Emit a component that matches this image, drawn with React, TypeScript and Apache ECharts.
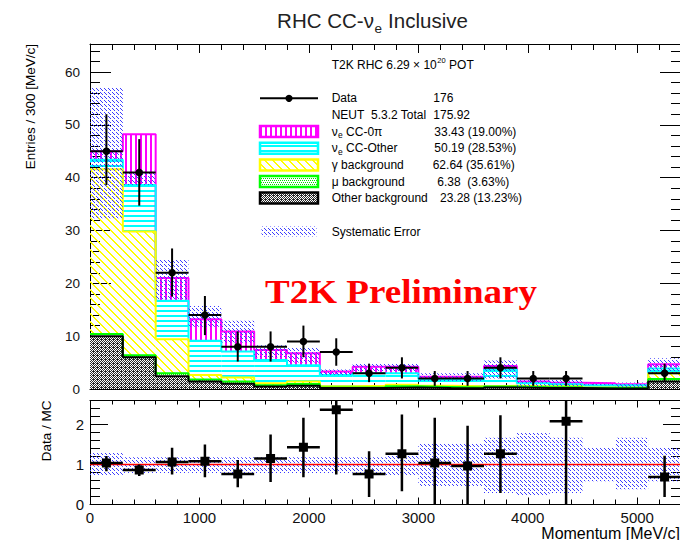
import React, { useEffect, useRef } from 'react';
import * as echarts from 'echarts';

const SANS = 'Liberation Sans, Arial, Helvetica, sans-serif';
const SERIF = 'Liberation Serif, Times New Roman, serif';

// 300 MeV/c momentum bins
const binEdges = [0, 300, 600, 900, 1200, 1500, 1800, 2100, 2400, 2700, 3000, 3300, 3600, 3900, 4200, 4500, 4800, 5100, 5400];

// MC stack components (entries per bin), bottom to top
const otherBkg = [10.0, 6.0, 2.4, 1.4, 1.0, 0.45, 0.6, 0.2, 0.2, 0.3, 0.2, 0.15, 0.3, 0.2, 0.2, 0.1, 0.15, 1.4];
const muBkg = [0.4, 0.4, 0.6, 0.4, 0.4, 0.25, 0.35, 0.1, 0.1, 0.2, 0.2, 0.15, 0.15, 0.15, 0.15, 0.1, 0.1, 0.5];
const gammaBkg = [31.2, 23.4, 6.4, 0.85, 0.8, 0.4, 0.45, 0.2, 0.3, 0.3, 0.2, 0.2, 0.15, 0.15, 0.15, 0.1, 0.1, 1.1];
const ccOther = [1.8, 8.8, 7.3, 6.5, 4.9, 4.4, 3.1, 2.15, 2.4, 2.2, 1.3, 1.3, 3.1, 0.6, 0.4, 0.4, 0.35, 0.9];
const cc0pi = [1.6, 9.6, 4.3, 4.05, 3.8, 1.9, 2.25, 0.65, 1.2, 1.2, 0.4, 0.5, 0.65, 0.3, 0.3, 0.4, 0.2, 0.8];

// systematic error band (top panel)
const bandLow = [32.3, 38.6, 16.9, 11.8, 8.8, 6.0, 5.0, 2.5, 3.2, 3.3, 1.5, 1.5, 2.0, 0.5, 0.5, 0.7, 0.3, 3.0];
const bandHigh = [57.0, 41.3, 24.4, 15.7, 12.9, 8.3, 7.9, 3.7, 4.9, 4.9, 3.0, 3.0, 5.4, 1.8, 1.7, 1.2, 1.25, 5.8];

// data
const dataCounts = [45, 41, 22, 14, 8, 8, 9, 7, 3, 4, 2, 2, 4, 2, 2, null, null, 3];
const dataErrLow = [38.6, 34.7, 17.5, 10.2, 5.2, 5.2, 6.0, 4.4, 1.3, 2.0, 0.6, 0.6, 2.0, 0.6, 0.6, null, null, 1.3];
const dataErrHigh = [52.0, 47.3, 26.6, 17.6, 10.9, 10.9, 12.0, 9.6, 4.8, 6.0, 3.4, 3.4, 6.0, 3.4, 3.4, null, null, 4.8];

// ratio panel
const ratioValues = [1.04, 0.86, 1.06, 1.08, 0.76, 1.15, 1.43, 2.37, 0.76, 1.27, 1.04, 0.96, 1.27, null, 2.08, null, null, 0.69];
const ratioErrLow = [0.83, 0.71, 0.75, 0.68, 0.43, 0.56, 0.68, 0.75, 0.19, 0.33, 0.0, 0.0, 0.29, null, 0.0, null, null, 0.19];
const ratioErrHigh = [1.21, 1.0, 1.42, 1.5, 1.11, 1.75, 2.17, 3.3, 1.33, 2.25, 2.17, 1.97, 2.23, null, 3.5, null, null, 1.22];
const ratioBandLow = [0.71, 0.79, 0.79, 0.79, 0.79, 0.79, 0.79, 0.79, 0.79, 0.71, 0.46, 0.46, 0.29, 0.21, 0.29, 0.58, 0.38, 0.58];
const ratioBandHigh = [1.29, 1.18, 1.18, 1.18, 1.18, 1.18, 1.18, 1.18, 1.18, 1.25, 1.54, 1.54, 1.67, 1.79, 1.67, 1.42, 1.67, 1.42];
const ratioReference = 1;

function makeTile(w: number, h: number, bg: string | null, fg: string, pts: number[][]) {
  const c = document.createElement('canvas');
  c.width = w;
  c.height = h;
  const ctx = c.getContext('2d')!;
  if (bg) {
    ctx.fillStyle = bg;
    ctx.fillRect(0, 0, w, h);
  }
  ctx.fillStyle = fg;
  pts.forEach(([x, y]) => ctx.fillRect(x, y, 1, 1));
  return { image: c.toDataURL('image/png'), repeat: 'repeat', imageWidth: w, imageHeight: h };
}

function measure(text: string, size: number, family = '"Liberation Sans"', weight = 'normal') {
  const ctx = document.createElement('canvas').getContext('2d')!;
  ctx.font = `${weight} ${size}px ${family}`;
  return ctx.measureText(text).width;
}

export default function App() {
  const ref = useRef<HTMLDivElement>(null);
  useEffect(() => {
    if (!ref.current) return;
    const chart = echarts.init(ref.current, null, { renderer: 'svg' });

    const yl: number[][] = [];
    for (let i = 0; i < 8; i++) { yl.push([i, i]); yl.push([(i + 1) % 8, i]); }
    const patYellow = makeTile(8, 8, null, '#ffff00', yl);
    const mg: number[][] = [];
    for (let y = 0; y < 5; y++) { mg.push([0, y]); mg.push([1, y]); }
    const patMagenta = makeTile(5, 5, null, '#ff00ff', mg);
    const cy: number[][] = [];
    for (let x = 0; x < 5; x++) { cy.push([x, 0]); cy.push([x, 1]); }
    const patCyan = makeTile(5, 5, null, '#00ffff', cy);
    const patGreen = makeTile(4, 4, null, '#00e000', [[0, 0], [2, 0], [1, 2], [3, 2]]);
    const patGray = makeTile(4, 4, '#2a2a2a', '#ffffff', [[0, 0], [2, 0], [1, 1], [3, 1], [0, 2], [2, 2], [3, 3]]);
    const patBlue = makeTile(4, 4, null, '#3c3cff', [[0, 0], [1, 1], [2, 2]]);

    const nB = binEdges.length - 1;
    const rectRenderer = (pat: any) => (params: any, api: any) => {
      const p0 = api.coord([api.value(0), api.value(2)]);
      const p1 = api.coord([api.value(1), api.value(3)]);
      return {
        type: 'rect',
        shape: { x: p0[0], y: p1[1], width: p1[0] - p0[0], height: p0[1] - p1[1] },
        style: { fill: pat },
      };
    };

    const comps = [
      { vals: otherBkg, pat: patGray, color: '#000000' },
      { vals: muBkg, pat: patGreen, color: '#00ff00' },
      { vals: gammaBkg, pat: patYellow, color: '#ffff00' },
      { vals: ccOther, pat: patCyan, color: '#00ffff' },
      { vals: cc0pi, pat: patMagenta, color: '#ff00ff' },
    ];
    const cum: number[] = binEdges.slice(1).map(() => 0);
    const fillSeries: any[] = [];
    const lineSeries: any[] = [];
    comps.forEach((c) => {
      const rects: number[][] = [];
      const steps: number[][] = [];
      for (let i = 0; i < nB; i++) {
        const lo = cum[i];
        const hi = lo + c.vals[i];
        cum[i] = hi;
        rects.push([binEdges[i], binEdges[i + 1], lo, hi]);
        steps.push([binEdges[i], hi], [binEdges[i + 1], hi]);
      }
      fillSeries.push({
        type: 'custom', xAxisIndex: 0, yAxisIndex: 0, data: rects, silent: true, z: 1,
        encode: { x: [0, 1], y: [2, 3] }, renderItem: rectRenderer(c.pat),
      });
      lineSeries.push({
        type: 'line', xAxisIndex: 0, yAxisIndex: 0, data: steps, symbol: 'none', silent: true, z: 2,
        lineStyle: { color: c.color, width: 2 },
      });
    });
    lineSeries.reverse();

    const bandRects = binEdges.slice(0, nB).map((e, i) => [e, binEdges[i + 1], bandLow[i], bandHigh[i]]);
    const ratioBandRects = binEdges.slice(0, nB).map((e, i) => [e, binEdges[i + 1], ratioBandLow[i], ratioBandHigh[i]]);

    const topPts: number[][] = [];
    const ratioPts: number[][] = [];
    for (let i = 0; i < nB; i++) {
      if (dataCounts[i] != null) topPts.push([binEdges[i], binEdges[i + 1], dataCounts[i] as number, dataErrLow[i] as number, dataErrHigh[i] as number]);
      if (ratioValues[i] != null) ratioPts.push([binEdges[i], binEdges[i + 1], ratioValues[i] as number, ratioErrLow[i] as number, ratioErrHigh[i] as number]);
    }
    const pointRenderer = (square: boolean, lw: number, size: number) => (params: any, api: any) => {
      const x0 = api.value(0), x1 = api.value(1), v = api.value(2), lo = api.value(3), hi = api.value(4);
      const xc = (x0 + x1) / 2;
      const a = api.coord([x0, v]);
      const b = api.coord([x1, v]);
      const c = api.coord([xc, v]);
      const l = api.coord([xc, lo]);
      const h = api.coord([xc, hi]);
      const marker = square
        ? { type: 'rect', shape: { x: c[0] - size / 2, y: c[1] - size / 2, width: size, height: size }, style: { fill: '#000' } }
        : { type: 'circle', shape: { cx: c[0], cy: c[1], r: size / 2 }, style: { fill: '#000' } };
      return {
        type: 'group',
        children: [
          { type: 'line', shape: { x1: a[0], y1: a[1], x2: b[0], y2: b[1] }, style: { stroke: '#000', lineWidth: lw } },
          { type: 'line', shape: { x1: c[0], y1: h[1], x2: c[0], y2: l[1] }, style: { stroke: '#000', lineWidth: lw } },
          marker,
        ],
      };
    };

    const plain = (v: number) => String(v);
    const axLine = { show: true, onZero: false, lineStyle: { color: '#000', width: 1 } };
    const mkX = (grid: number, pos: string, labels: boolean, major: number, minor: number) => ({
      type: 'value', gridIndex: grid, position: pos, min: binEdges[0], max: binEdges[nB], interval: 1000,
      axisLine: axLine,
      axisTick: { show: true, inside: true, length: major, lineStyle: { color: '#000' } },
      minorTick: { show: true, splitNumber: 5, length: minor, lineStyle: { color: '#000' } },
      splitLine: { show: false },
      axisLabel: { show: labels, showMaxLabel: false, fontSize: 15, fontFamily: SANS, color: '#111', margin: 5, formatter: plain },
    });
    const mkY = (grid: number, pos: string, labels: boolean, max: number, major: number, fs: number, margin: number) => ({
      type: 'value', gridIndex: grid, position: pos, min: 0, max, interval: grid === 0 ? 10 : 1,
      axisLine: axLine,
      axisTick: { show: true, inside: true, length: major, lineStyle: { color: '#000' } },
      minorTick: { show: true, splitNumber: 5, length: 10, lineStyle: { color: '#000' } },
      splitLine: { show: false },
      axisLabel: { show: labels, showMaxLabel: false, fontSize: fs, fontFamily: SANS, color: '#111', margin, formatter: plain },
    });

    const txt = (x: number, y: number, text: string, size: number, extra: any = {}, el: any = {}) => ({
      type: 'text', x, y, z: 100, silent: true, ...el,
      style: { text, fontSize: size, fontFamily: SANS, fill: '#000', align: 'left', verticalAlign: 'middle', ...extra },
    });

    // Title pieces centred
    const tA = 'RHC CC-ν', tB = 'e', tC = 'Inclusive';
    const wA = measure(tA, 20.5), wB = measure(tB, 13.5), wSp = measure(' ', 20.5), wC = measure(tC, 20.5);
    const tTotal = wA + wB + 1 + wSp + wC;
    const tx0 = 372.5 - tTotal / 2;

    const legendX = 331.7;
    const nuLine = (y: number, rest: string) => {
      const w1 = measure('ν', 12);
      const w2 = measure('e', 8.5);
      return [
        txt(legendX, y, 'ν', 12),
        txt(legendX + w1 + 0.3, y + 3.5, 'e', 8.5),
        txt(legendX + w1 + w2 + 0.3 + measure(' ', 12), y, rest, 12),
      ];
    };
    const potA = 'T2K RHC 6.29 × 10';
    const wPotA = measure(potA, 12);
    const wSup = measure('20', 7.5);

    const prelim = 'T2K Preliminary';
    const wPre = measure(prelim, 34, '"Liberation Serif"', 'bold');

    const box = (y: number, pat: any, stroke: string) => ({
      type: 'rect', z: 100, silent: true,
      shape: { x: 260, y: y - 5.5, width: 58, height: 11 },
      style: { fill: pat, stroke, lineWidth: 2.5 },
    });

    const graphics: any[] = [
      txt(tx0, 20.5, tA, 20.5, { fill: '#222' }),
      txt(tx0 + wA + 0.5, 28.5, tB, 13.5, { fill: '#222' }),
      txt(tx0 + wA + wB + 1 + wSp, 20.5, tC, 20.5, { fill: '#222' }),
      txt(30, 44, 'Entries / 300 [MeV/c]', 13.5, { align: 'right' }, { rotation: Math.PI / 2 }),
      txt(46, 400.5, 'Data / MC', 13.5, { align: 'right' }, { rotation: Math.PI / 2 }),
      txt(680, 533, 'Momentum [MeV/c]', 16, { align: 'right' }),
      txt(legendX, 65, potA, 12),
      txt(legendX + wPotA + 0.5, 60, '20', 7.5),
      txt(legendX + wPotA + wSup + 4, 65, 'POT', 12),
      {
        type: 'line', z: 100, silent: true,
        shape: { x1: 260, y1: 98.3, x2: 318, y2: 98.3 }, style: { stroke: '#000', lineWidth: 2 },
      },
      { type: 'circle', z: 101, silent: true, shape: { cx: 289, cy: 98.3, r: 3.6 }, style: { fill: '#000' } },
      txt(legendX, 98.3, 'Data', 12),
      txt(433.3, 98.3, '176', 12),
      txt(legendX, 114.6, 'NEUT\u00a0\u00a05.3.2 Total', 12),
      txt(433.3, 114.6, '175.92', 12),
      box(131.5, patMagenta, '#ff00ff'),
      ...nuLine(131.5, 'CC-0π'),
      txt(434.3, 131.5, '33.43 (19.00%)', 12),
      box(148.2, patCyan, '#00ffff'),
      ...nuLine(148.2, 'CC-Other'),
      txt(434.3, 148.2, '50.19 (28.53%)', 12),
      box(164.9, patYellow, '#ffff00'),
      txt(legendX, 164.9, 'γ background', 12),
      txt(432.7, 164.9, '62.64 (35.61%)', 12),
      box(181.5, patGreen, '#00ff00'),
      txt(legendX, 181.5, 'μ background', 12),
      txt(437.3, 181.5, '6.38\u00a0\u00a0(3.63%)', 12),
      box(197.9, patGray, '#000000'),
      txt(legendX, 197.9, 'Other background', 12),
      txt(440, 197.9, '23.28 (13.23%)', 12),
      {
        type: 'rect', z: 100, silent: true,
        shape: { x: 261.5, y: 226.5, width: 55, height: 10 }, style: { fill: patBlue },
      },
      txt(legendX, 231.5, 'Systematic Error', 12),
      {
        type: 'text', x: 265, y: 292, z: 100, silent: true, scaleX: 272 / wPre,
        style: { text: prelim, fontSize: 34, fontWeight: 'bold', fontFamily: SERIF, fill: '#ff0000', align: 'left', verticalAlign: 'middle' },
      },
    ];

    const option: any = {
      animation: false,
      backgroundColor: '#ffffff',
      textStyle: { fontFamily: SANS },
      grid: [
        { left: 90, top: 44, width: 591, height: 345, containLabel: false, outerBoundsMode: 'none' },
        { left: 90, top: 400.5, width: 591, height: 104, containLabel: false, outerBoundsMode: 'none' },
      ],
      xAxis: [
        mkX(0, 'bottom', false, 9, 6),
        mkX(0, 'top', false, 9, 6),
        mkX(1, 'bottom', true, 7, 5),
        mkX(1, 'top', false, 7, 4),
      ],
      yAxis: [
        mkY(0, 'left', true, 65.3, 21, 13.5, 10),
        mkY(0, 'right', false, 65.3, 21, 13.5, 10),
        mkY(1, 'left', true, 2.6, 18, 15, 6),
        mkY(1, 'right', false, 2.6, 18, 15, 6),
      ],
      series: [
        ...fillSeries,
        ...lineSeries,
        {
          type: 'custom', xAxisIndex: 0, yAxisIndex: 0, data: bandRects, silent: true, z: 3,
          encode: { x: [0, 1], y: [2, 3] }, renderItem: rectRenderer(patBlue),
        },
        {
          type: 'custom', xAxisIndex: 0, yAxisIndex: 0, data: topPts, silent: true, z: 5, clip: true,
          encode: { x: [0, 1], y: [2, 3, 4] }, renderItem: pointRenderer(false, 2, 7.5),
        },
        {
          type: 'custom', xAxisIndex: 2, yAxisIndex: 2, data: ratioBandRects, silent: true, z: 3, clip: true,
          encode: { x: [0, 1], y: [2, 3] }, renderItem: rectRenderer(patBlue),
        },
        {
          type: 'line', xAxisIndex: 2, yAxisIndex: 2, symbol: 'none', silent: true, z: 4,
          data: [[binEdges[0], ratioReference], [binEdges[nB], ratioReference]],
          lineStyle: { color: '#ff0000', width: 1.5 },
        },
        {
          type: 'custom', xAxisIndex: 2, yAxisIndex: 2, data: ratioPts, silent: true, z: 5, clip: true,
          encode: { x: [0, 1], y: [2, 3, 4] }, renderItem: pointRenderer(true, 2.5, 9),
        },
      ],
      graphic: { elements: graphics },
    };
    chart.setOption(option);
    return () => chart.dispose();
  }, []);
  return (
    <div
      ref={ref}
      style={{ position: 'absolute', left: 0, top: 0, width: 680, height: 540, background: '#fff' }}
    />
  );
}
